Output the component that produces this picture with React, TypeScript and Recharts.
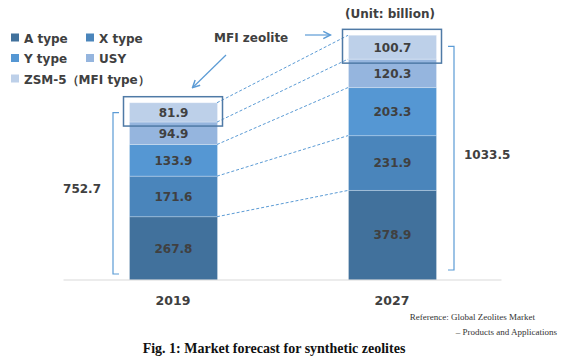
import { BarChart, Bar, XAxis, YAxis, LabelList } from 'recharts';

// values in billion
const years = ['2019', '2027'];
const aType = [267.8, 378.9];
const xType = [171.6, 231.9];
const yType = [133.9, 203.3];
const usy = [94.9, 120.3];
const zsm5 = [81.9, 100.7];
const totals = ['752.7', '1033.5'];

const seriesKeys = ['a', 'x', 'y', 'usy', 'zsm'];
const seriesNames = ['A type', 'X type', 'Y type', 'USY', 'ZSM-5（MFI type）'];
const seriesColors = ['#41719c', '#4a85bb', '#5597d3', '#95b5de', '#bdd0e9'];
const seriesValues = [aType, xType, yType, usy, zsm5];

const data = years.map((year, i) => ({
  year,
  a: aType[i],
  x: xType[i],
  y: yType[i],
  usy: usy[i],
  zsm: zsm5[i],
}));

// chart layout (shared with the overlay below)
const W = 566;
const H = 361;
const margin = { top: 20, right: 64.5, left: 63.5, bottom: 51 };
const xAxisHeight = 30;
const yMax = 1100;
const barSize = 88;
const plotH = H - margin.top - margin.bottom - xAxisHeight;
const plotW = W - margin.left - margin.right;
const step = plotW / years.length;

const yPx = (v: number) => margin.top + plotH * (1 - v / yMax);
const xCenter = (i: number) => margin.left + step * (i + 0.5);
const barLeft = (i: number) => xCenter(i) - barSize / 2;
const barRight = (i: number) => xCenter(i) + barSize / 2;
const cum = (i: number, k: number) =>
  seriesValues.slice(0, k).reduce((s, arr) => s + arr[i], 0);

const textFont = 'Verdana, "DejaVu Sans", sans-serif';
const textColor = '#404040';
const accent = '#5b9bd5';

const Overlay = () => {
  const box = (i: number) => {
    const top = yPx(cum(i, 5));
    const bottom = yPx(cum(i, 4));
    return { x: barLeft(i) - 5.5, y: top - 6, w: barSize + 11, h: bottom - top + 10 };
  };
  const b0 = box(0);
  const b1 = box(1);
  const base = yPx(0);
  const lx = barLeft(0) - 16;
  const rx = barRight(1) + 18;
  const lTop = yPx(cum(0, 5)) + 10;
  const rTop = yPx(cum(1, 5)) + 11;

  return (
    <svg
      width={W}
      height={H}
      style={{ position: 'absolute', left: 0, top: 0, pointerEvents: 'none' }}
    >
      <defs>
        <marker id="arr" markerWidth="8" markerHeight="8" refX="7" refY="4" orient="auto">
          <path d="M1,1 L7,4 L1,7" fill="none" stroke={accent} strokeWidth={1.2} />
        </marker>
      </defs>

      {/* legend */}
      {seriesNames.map((name, i) => {
        const col = i === 4 ? 0 : i % 2;
        const row = Math.floor(i / 2);
        const x = 11 + col * 75;
        const y = 38 + row * 20.5;
        return (
          <g key={name}>
            <rect x={x} y={y - 4.5} width={8} height={8} fill={seriesColors[i]} />
            <text
              x={x + 13}
              y={y + 4.5}
              fontFamily={textFont}
              fontWeight="bold"
              fontSize={12}
              fill={textColor}
            >
              {name}
            </text>
          </g>
        );
      })}

      {/* dashed connectors between bar segments */}
      {[1, 2, 3, 4, 5].map((k) => (
        <line
          key={k}
          x1={barRight(0)}
          y1={yPx(cum(0, k))}
          x2={barLeft(1)}
          y2={yPx(cum(1, k))}
          stroke={accent}
          strokeWidth={1}
          strokeDasharray="3 2"
        />
      ))}

      {/* MFI boxes */}
      <rect x={b0.x} y={b0.y} width={b0.w} height={b0.h} fill="none" stroke="#4f7aa6" strokeWidth={1.5} />
      <rect x={b1.x} y={b1.y} width={b1.w} height={b1.h} fill="none" stroke="#4f7aa6" strokeWidth={1.5} />

      {/* brackets */}
      <path
        d={`M${lx + 6},${lTop} H${lx} V${base - 6} H${lx + 6}`}
        fill="none"
        stroke={accent}
        strokeWidth={1.2}
      />
      <path
        d={`M${rx - 6},${rTop} H${rx} V${base - 10} H${rx - 6}`}
        fill="none"
        stroke={accent}
        strokeWidth={1.2}
      />
      <text
        x={lx - 12}
        y={(lTop + base) / 2 - 3}
        textAnchor="end"
        fontFamily={textFont}
        fontWeight="bold"
        fontSize={12}
        fill={textColor}
      >
        {totals[0]}
      </text>
      <text
        x={rx + 10}
        y={(rTop + base) / 2 - 4}
        fontFamily={textFont}
        fontWeight="bold"
        fontSize={12}
        fill={textColor}
      >
        {totals[1]}
      </text>

      {/* MFI zeolite callout */}
      <text x={214} y={41.5} fontFamily={textFont} fontWeight="bold" fontSize={12} fill={textColor}>
        MFI zeolite
      </text>
      <line x1={305} y1={35} x2={b1.x - 12} y2={35} stroke={accent} strokeWidth={1.2} markerEnd="url(#arr)" />
      <line x1={226} y1={55} x2={b0.x + 69} y2={b0.y - 9} stroke={accent} strokeWidth={1.2} markerEnd="url(#arr)" />

      <text x={xCenter(1) - 2} y={18} textAnchor="middle" fontFamily={textFont} fontWeight="bold" fontSize={12} fill={textColor}>
        (Unit: billion)
      </text>

      {/* source and caption */}
      <text x={535} y={320} textAnchor="end" fontFamily='"Liberation Serif", serif' fontSize={9} fill="#333">
        Reference: Global Zeolites Market
      </text>
      <text x={557} y={335} textAnchor="end" fontFamily='"Liberation Serif", serif' fontSize={9} fill="#333">
        – Products and Applications
      </text>
      <text
        x={274}
        y={352.5}
        textAnchor="middle"
        fontFamily='"Liberation Serif", serif'
        fontWeight="bold"
        fontSize={14}
        fill="#111"
      >
        Fig. 1: Market forecast for synthetic zeolites
      </text>
    </svg>
  );
};

export default function App() {
  return (
    <div style={{ position: 'absolute', left: 0, top: 0, width: W, height: H, background: '#fff' }}>
      <BarChart width={W} height={H} data={data} margin={margin}>
        <XAxis
          dataKey="year"
          height={xAxisHeight}
          axisLine={{ stroke: '#d9d9d9' }}
          tickLine={false}
          tickMargin={10}
          tick={{ fill: textColor, fontFamily: textFont, fontWeight: 'bold', fontSize: 12.5 }}
        />
        <YAxis hide domain={[0, yMax]} />
        {seriesKeys.map((key, i) => (
          <Bar
            key={key}
            dataKey={key}
            stackId="s"
            fill={seriesColors[i]}
            stroke="#ffffff"
            strokeOpacity={0.25}
            strokeWidth={1}
            barSize={barSize}
            isAnimationActive={false}
          >
            <LabelList
              dataKey={key}
              position="center"
              fill={textColor}
              fontFamily={textFont}
              fontWeight="bold"
              fontSize={12}
            />
          </Bar>
        ))}
      </BarChart>
      <Overlay />
    </div>
  );
}
